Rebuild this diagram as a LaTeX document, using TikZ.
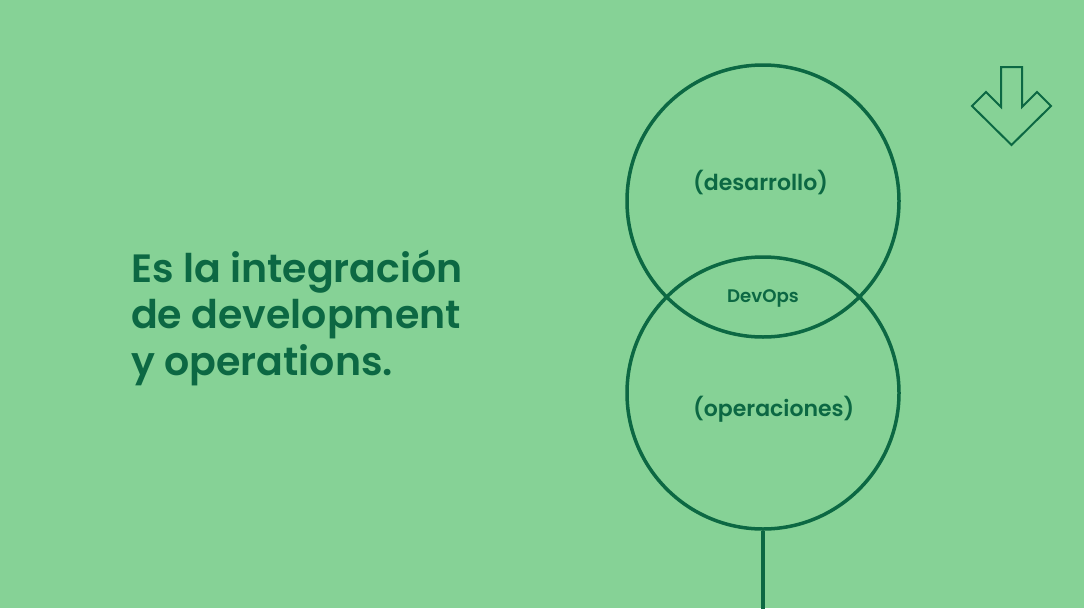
\documentclass[tikz,border=0pt]{standalone}
\usepackage{fontspec}
\setmainfont{Poppins}[BoldFont={Poppins SemiBold}]
\definecolor{bg}{HTML}{86D296}
\definecolor{dk}{HTML}{0C6843}
\begin{document}
\begin{tikzpicture}[x=1pt,y=-1pt,
  ring/.style={circle,draw=dk,line width=3.5pt,minimum size=272pt,inner sep=0pt},
  lbl/.style={text=dk,inner sep=0pt,font=\bfseries\fontsize{22}{26}\selectfont},
  headline/.style={text=dk,inner sep=0pt,align=left,font=\bfseries\fontsize{39.5}{46.5}\selectfont}]
\fill[bg] (0,0) rectangle (1084,608);
\useasboundingbox (0,0) rectangle (1084,608);
\node[ring] (dev) at (763,201) {};
\node[ring] (ops) at (763,393) {};
\coordinate (stemend) at (763,610);
\draw[dk,line width=3.5pt] (ops.south) -- (stemend);
\node[lbl,anchor=base west] (desa) at (693,190) {(desarrollo)};
\node[lbl,anchor=base west] (oper) at (693,416) {(operaciones)};
\node[lbl,font=\bfseries\fontsize{18.2}{21}\selectfont,anchor=base] (devops) at (763,302) {DevOps};
\node[headline,anchor=base west] (head) at (131,375) {Es la integración\\de development\\y operations.};
\draw[dk,line width=2pt,line join=miter] (1001,67) -- (1022,67) -- (1022,107) -- (1037,92) -- (1051,106) -- (1011.5,145) -- (972,106) -- (986,92) -- (1001,107) -- cycle;
\end{tikzpicture}
\end{document}
